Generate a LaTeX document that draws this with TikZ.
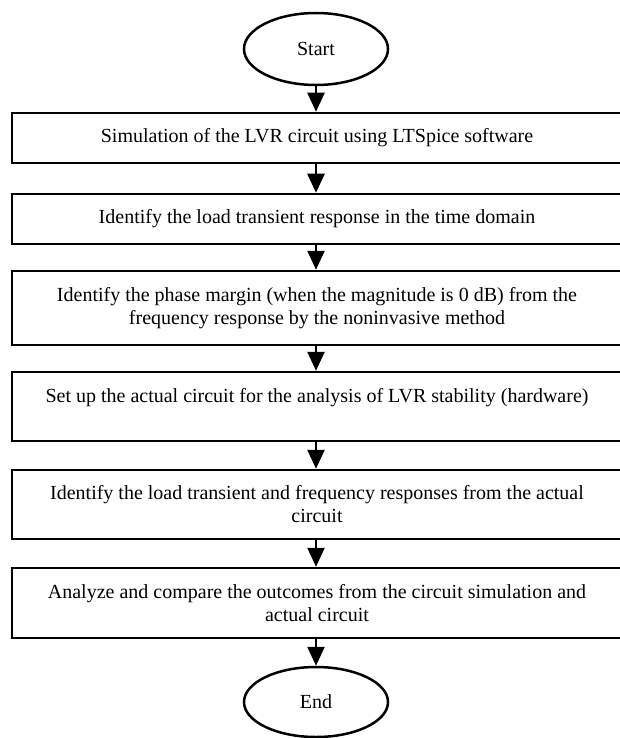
\documentclass[tikz,border=0pt]{standalone}
\usepackage{fontspec}
\setmainfont{Liberation Serif}
\usetikzlibrary{arrows.meta,shapes.geometric}

\begin{document}
\begin{tikzpicture}[x=1pt, y=-1pt, >={Triangle[length=19pt,width=17pt]},
    procbox/.style={draw, line width=2.5pt, minimum width=610pt, inner sep=0pt,
        align=center, font=\fontsize{20}{23}\selectfont},
    termin/.style={draw, ellipse, line width=2.5pt, minimum width=144pt,
        minimum height=72pt, inner sep=0pt, font=\fontsize{20}{23}\selectfont},
    flow/.style={->, line width=2.5pt}]
    % Khung ảnh
    \useasboundingbox (0, 0) rectangle (620, 738);

    % 1. Bắt đầu
    \node[termin] (start) at (316, 49) {Start};

    % 2. Các bước
    \node[procbox, minimum height=50pt] (sim) at (317, 138)
        {Simulation of the LVR circuit using LTSpice software};
    \node[procbox, minimum height=50pt] (transient) at (317, 219)
        {Identify the load transient response in the time domain};
    \node[procbox, minimum height=74pt] (phase) at (317, 308)
        {Identify the phase margin (when the magnitude is 0 dB) from the\\
         frequency response by the noninvasive method};
    \node[procbox, minimum height=69pt] (hardware) at (317, 406.5)
        {Set up the actual circuit for the analysis of LVR stability (hardware)\\ \mbox{}};
    \node[procbox, minimum height=69pt] (measure) at (317, 504.5)
        {Identify the load transient and frequency responses from the actual\\
         circuit};
    \node[procbox, minimum height=70pt] (compare) at (317, 603)
        {Analyze and compare the outcomes from the circuit simulation and\\
         actual circuit};

    % 3. Kết thúc
    \node[termin, minimum height=70pt] (end) at (316, 702) {End};

    % 4. Mũi tên
    \draw[flow] (start.south) -- (start.south |- sim.north);
    \draw[flow] (start.south |- sim.south) -- (start.south |- transient.north);
    \draw[flow] (start.south |- transient.south) -- (start.south |- phase.north);
    \draw[flow] (start.south |- phase.south) -- (start.south |- hardware.north);
    \draw[flow] (start.south |- hardware.south) -- (start.south |- measure.north);
    \draw[flow] (start.south |- measure.south) -- (start.south |- compare.north);
    \draw[flow] (start.south |- compare.south) -- (end.north);

\end{tikzpicture}
\end{document}
